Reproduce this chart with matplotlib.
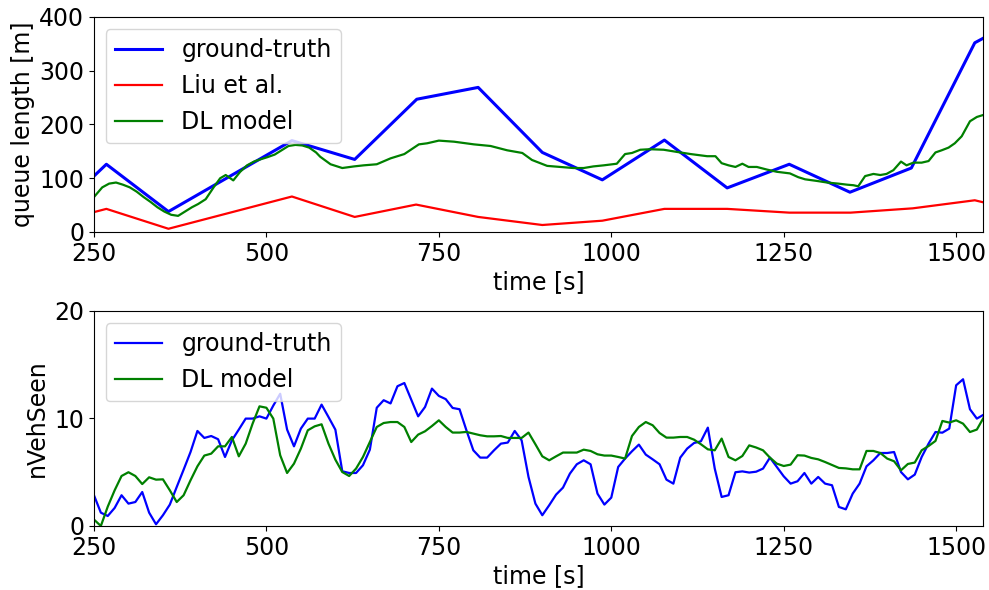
import numpy as np
import matplotlib
matplotlib.use("Agg")
import matplotlib.pyplot as plt

plt.rcParams["font.family"] = ["DejaVu Sans"]
plt.rcParams["font.size"] = 17

# ---------------- queue length (top panel) ----------------
gt_q_t = [250, 268, 358, 537, 628, 718, 807, 900, 987, 1077, 1168, 1258, 1346, 1435, 1527, 1540]
gt_q = [104, 126, 38, 170, 135, 247, 269, 148, 97, 171, 82, 126, 74, 119, 352, 361]

liu_t = [250, 268, 358, 537, 628, 717, 807, 900, 987, 1077, 1168, 1258, 1347, 1437, 1527, 1540]
liu_q = [37, 43, 6, 66, 28, 51, 28, 13, 21, 43, 43, 36, 36, 44, 59, 55]

dl_q_t = [250, 262, 272, 282, 292, 302, 312, 322, 332, 342, 352, 362, 372, 382, 392, 401,
          412, 424, 433, 441, 452, 462, 472, 482, 491, 501, 512, 522, 532, 542, 552, 562,
          572, 578, 593, 610, 627, 641, 660, 680, 700, 721, 733, 750, 772, 801, 825, 849,
          871, 885, 897, 907, 926, 945, 960, 974, 989, 1008, 1020, 1030, 1042, 1056, 1076,
          1095, 1115, 1139, 1151, 1160, 1170, 1180, 1190, 1199, 1211, 1226, 1240, 1259,
          1271, 1281, 1298, 1313, 1329, 1342, 1351, 1358, 1368, 1380, 1390, 1399, 1409,
          1420, 1428, 1438, 1450, 1460, 1470, 1479, 1489, 1498, 1508, 1520, 1530, 1540]
dl_q = [65, 83, 90, 92, 88, 83, 75, 65, 56, 46, 38, 32, 30, 38, 46, 52,
        61, 84, 100, 106, 96, 112, 124, 131, 135, 139, 144, 152, 160, 162, 161, 157,
        148, 140, 126, 119, 122, 124, 126, 137, 145, 163, 165, 170, 168, 163, 160, 152,
        147, 134, 128, 123, 121, 119, 119, 122, 124, 127, 145, 147, 153, 154, 153,
        149, 145, 141, 141, 128, 124, 121, 127, 121, 121, 116, 112, 109,
        102, 98, 95, 92, 90, 88, 87, 85, 104, 108, 106, 108, 115,
        131, 124, 129, 129, 132, 148, 152, 157, 165, 178, 206, 214, 218]

# ---------------- vehicles seen (bottom panel) ----------------
veh_t = np.arange(250, 1541, 10)
gt_veh = [2.86, 1.24, 0.93, 1.68, 2.86, 2.08, 2.23, 3.16, 1.24, 0.16,
          1.0, 1.99, 3.63, 5.24, 6.88, 8.84, 8.19, 8.37, 8.07, 6.42,
          7.97, 8.97, 9.99, 9.99, 10.2, 9.99, 11.2, 12.3, 8.97, 7.41,
          9.06, 9.99, 9.99, 11.29, 10.14, 8.96, 5.09, 4.93, 4.93, 5.65,
          7.1, 11.0, 11.7, 11.4, 13.0, 13.3, 11.76, 10.2, 11.07, 12.78,
          12.1, 11.8, 10.98, 10.86, 8.9, 7.04, 6.36, 6.36, 7.04, 7.66,
          7.76, 8.84, 7.97, 4.56, 2.08, 1.0, 1.93, 2.92, 3.57, 4.87,
          5.74, 6.11, 5.74, 3.01, 1.99, 2.64, 5.49, 6.27, 6.95, 7.57,
          6.64, 6.2, 5.74, 4.31, 3.94, 6.36, 7.2, 7.72, 7.88, 9.15,
          5.34, 2.7, 2.86, 5.0, 5.08, 4.97, 5.05, 5.34, 6.36, 5.49,
          4.62, 3.94, 4.16, 4.93, 3.94, 4.56, 3.94, 3.79, 1.77, 1.55,
          3.01, 3.94, 5.55, 6.11, 6.79, 6.79, 6.88, 5.02, 4.34, 4.78,
          6.42, 7.66, 8.74, 8.68, 9.06, 13.09, 13.65, 10.86, 9.99, 10.36]
dl_veh = [0.6, 0.0, 1.8, 3.32, 4.65, 5.0, 4.65, 3.9, 4.53, 4.31,
          4.34, 3.32, 2.23, 2.86, 4.25, 5.55, 6.55, 6.73, 7.41, 7.41,
          8.28, 6.48, 7.66, 9.52, 11.13, 11.0, 9.99, 6.58, 4.93, 5.8,
          7.2, 8.9, 9.27, 9.46, 7.66, 6.17, 5.02, 4.65, 5.34, 6.42,
          7.81, 9.21, 9.58, 9.67, 9.67, 9.21, 7.81, 8.5, 8.81, 9.3,
          9.83, 9.21, 8.69, 8.69, 8.75, 8.6, 8.44, 8.34, 8.34, 8.37,
          8.19, 8.19, 8.19, 8.69, 7.6, 6.48, 6.11, 6.48, 6.83, 6.83,
          6.83, 7.1, 6.98, 6.67, 6.55, 6.55, 6.42, 6.27, 8.37, 9.21,
          9.67, 9.37, 8.65, 8.22, 8.22, 8.28, 8.28, 8.03, 7.6, 7.13,
          7.04, 8.13, 6.42, 6.11, 6.51, 7.5, 7.3, 7.04, 6.36, 5.8,
          5.58, 5.71, 6.58, 6.55, 6.33, 6.2, 5.95, 5.67, 5.4, 5.36,
          5.27, 5.27, 6.98, 6.98, 6.79, 6.27, 6.02, 5.18, 5.77, 5.9,
          7.04, 7.44, 7.91, 9.77, 9.62, 9.83, 9.52, 8.74, 8.97, 10.1]

xticks = [250, 500, 750, 1000, 1250, 1500]

fig = plt.figure(figsize=(9.89, 5.90), dpi=100)
ax1 = fig.add_axes([0.095, 0.6068, 0.899, 0.3644])
ax2 = fig.add_axes([0.095, 0.1085, 0.899, 0.3644])

ax1.plot(gt_q_t, gt_q, color="b", lw=2.2, label="ground-truth")
ax1.plot(liu_t, liu_q, color="r", lw=1.6, label="Liu et al.")
ax1.plot(dl_q_t, dl_q, color="g", lw=1.6, label="DL model")
ax1.set_xlim(250, 1539)
ax1.set_ylim(0, 400)
ax1.set_yticks([0, 100, 200, 300, 400])
ax1.set_xticks(xticks)
ax1.set_xlabel("time [s]", labelpad=3)
ax1.set_ylabel("queue length [m]", labelpad=3)
ax1.legend(loc="upper left", fontsize=17)

ax2.plot(veh_t, gt_veh, color="b", lw=1.6, label="ground-truth")
ax2.plot(veh_t, dl_veh, color="g", lw=1.6, label="DL model")
ax2.set_xlim(250, 1539)
ax2.set_ylim(0, 20)
ax2.set_yticks([0, 10, 20])
ax2.set_xticks(xticks)
ax2.set_xlabel("time [s]", labelpad=3)
ax2.set_ylabel("nVehSeen")
ax2.legend(loc="upper left", fontsize=17)

fig.savefig("out.png", dpi=100)
